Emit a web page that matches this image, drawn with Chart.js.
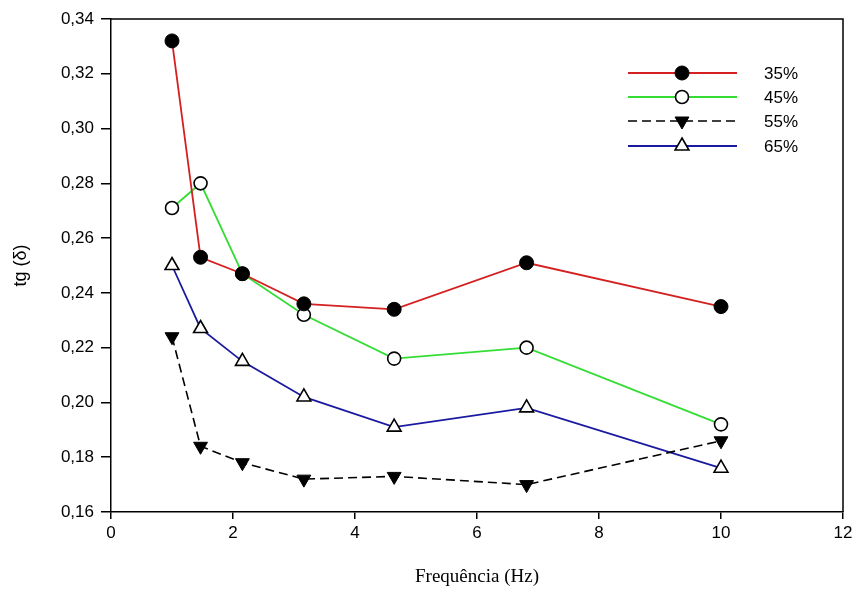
<!DOCTYPE html>
<html>
<head>
<meta charset="utf-8">
<script src="https://cdn.jsdelivr.net/npm/chart.js@4.4.0/dist/chart.umd.min.js"></script>
<style>
  html, body { margin: 0; padding: 0; background: #fff; }
  #wrap { width: 858px; height: 592px; }
</style>
</head>
<body>
<div id="wrap"><canvas id="tgchart"></canvas></div>
<script>
// frequencias (Hz)
let freq = [1.0, 1.468, 2.154, 3.162, 4.642, 6.813, 10.0];

let s35 = [0.332, 0.253, 0.247, 0.236, 0.234, 0.251, 0.235];
let s45 = [0.271, 0.280, 0.247, 0.232, 0.216, 0.220, 0.192];
let s55 = [0.224, 0.184, 0.178, 0.172, 0.173, 0.170, 0.186];
let s65 = [0.250, 0.227, 0.215, 0.202, 0.191, 0.198, 0.176];

let labels = ['35%', '45%', '55%', '65%'];
let yTicks = [0.16, 0.18, 0.20, 0.22, 0.24, 0.26, 0.28, 0.30, 0.32, 0.34];

function pts(vals) {
    return freq.map((f, i) => ({ x: f, y: vals[i] }));
}

var ctx = document.getElementById('tgchart');
const sans = 'Arial, "Liberation Sans", sans-serif';

// moldura (topo e direita) + legenda desenhada a mao
const frame = {
    id: 'frame',
    afterDraw(chart) {
        const c = chart.ctx;
        const a = chart.chartArea;
        c.save();
        c.strokeStyle = '#000';
        c.lineWidth = 1.5;
        c.beginPath();
        c.moveTo(a.left, a.top);
        c.lineTo(a.right, a.top);
        c.lineTo(a.right, a.bottom);
        c.stroke();

        // legenda
        let x0 = 628, x1 = 737, xm = 682, xt = 764;
        let ys = [73, 97, 121, 146];
        chart.data.datasets.forEach((ds, i) => {
            let y = ys[i];
            c.strokeStyle = ds.borderColor;
            c.lineWidth = ds.borderWidth;
            c.setLineDash(ds.borderDash || []);
            c.beginPath();
            c.moveTo(x0, y);
            c.lineTo(x1, y);
            c.stroke();
            c.setLineDash([]);
            c.fillStyle = ds.pointBackgroundColor;
            c.strokeStyle = ds.pointBorderColor;
            c.lineWidth = ds.pointBorderWidth;
            Chart.helpers.drawPoint(c, {
                pointStyle: ds.pointStyle,
                radius: ds.pointRadius,
                rotation: ds.rotation || 0,
                borderWidth: ds.pointBorderWidth
            }, xm, y);
            c.fillStyle = '#000';
            c.font = '17px ' + sans;
            c.textBaseline = 'middle';
            c.textAlign = 'left';
            c.fillText(ds.label, xt, y + 1);
        });
        c.restore();
    }
};

var tgchart = new Chart(ctx, {
    type: 'line',
    data: {
        datasets: [{
            label: labels[0],
            data: pts(s35),
            borderColor: '#d42020',
            borderWidth: 1.8,
            pointStyle: 'circle',
            pointRadius: 7,
            pointBackgroundColor: '#000',
            pointBorderColor: '#000',
            pointBorderWidth: 1
        }, {
            label: labels[1],
            data: pts(s45),
            borderColor: '#33dd33',
            borderWidth: 1.8,
            pointStyle: 'circle',
            pointRadius: 6.5,
            pointBackgroundColor: '#fff',
            pointBorderColor: '#000',
            pointBorderWidth: 1.6
        }, {
            label: labels[2],
            data: pts(s55),
            borderColor: '#000',
            borderWidth: 1.6,
            borderDash: [9, 5],
            pointStyle: 'triangle',
            rotation: 180,
            pointRadius: 8,
            pointBackgroundColor: '#000',
            pointBorderColor: '#000',
            pointBorderWidth: 1
        }, {
            label: labels[3],
            data: pts(s65),
            borderColor: '#1a1aa0',
            borderWidth: 1.8,
            pointStyle: 'triangle',
            pointRadius: 8,
            pointBackgroundColor: '#fff',
            pointBorderColor: '#000',
            pointBorderWidth: 1.6
        }]
    },
    options: {
        responsive: true,
        maintainAspectRatio: false,
        animation: false,
        layout: {
            padding: { top: 19, right: 15, left: 0, bottom: 0 }
        },
        scales: {
            x: {
                type: 'linear',
                min: 0,
                max: 12,
                afterFit: (s) => { s.height = 80; },
                ticks: {
                    stepSize: 2,
                    color: '#000',
                    padding: 4,
                    maxRotation: 0,
                    font: { family: sans, size: 17 }
                },
                grid: {
                    drawOnChartArea: false,
                    drawTicks: true,
                    tickLength: 7,
                    color: '#000',
                    lineWidth: 1.5
                },
                border: { display: true, color: '#000', width: 1.5 },
                title: {
                    display: true,
                    text: 'Frequência (Hz)',
                    color: '#000',
                    padding: { top: 8 },
                    font: { family: '"Times New Roman", "Liberation Serif", serif', size: 19 }
                }
            },
            y: {
                min: 0.16,
                max: 0.34,
                afterFit: (s) => { s.width = 111; },
                afterBuildTicks: (s) => { s.ticks = yTicks.map(v => ({ value: v })); },
                ticks: {
                    color: '#000',
                    padding: 7,
                    font: { family: sans, size: 17 },
                    callback: (v) => v.toFixed(2).replace('.', ',')
                },
                grid: {
                    drawOnChartArea: false,
                    drawTicks: true,
                    tickLength: 10,
                    color: '#000',
                    lineWidth: 1.5
                },
                border: { display: true, color: '#000', width: 1.5 },
                title: {
                    display: true,
                    text: 'tg (δ)',
                    color: '#000',
                    padding: { top: 10, bottom: 4 },
                    font: { family: sans, size: 18 }
                }
            }
        },
        plugins: {
            legend: { display: false },
            tooltip: { enabled: false }
        }
    },
    plugins: [frame]
});
</script>
</body>
</html>
